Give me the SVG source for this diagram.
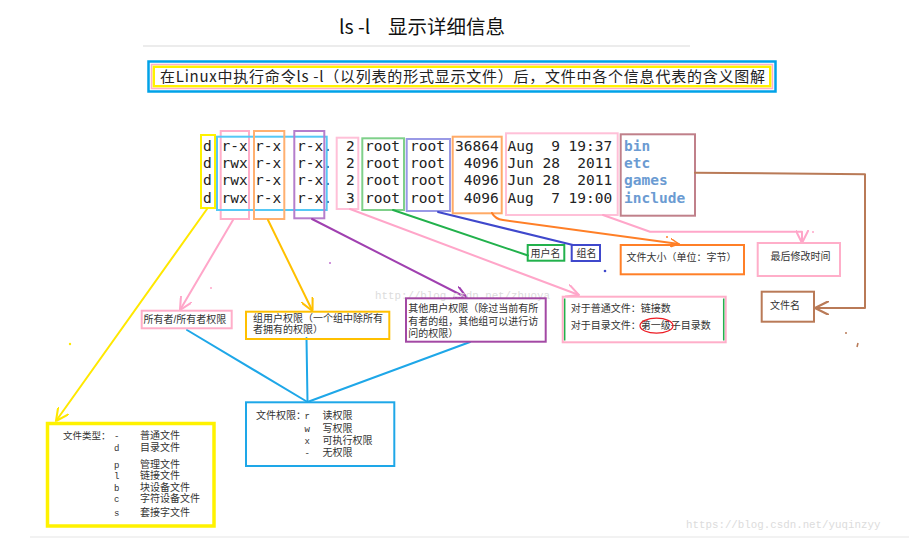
<svg xmlns="http://www.w3.org/2000/svg" width="909" height="540" viewBox="0 0 909 540">
<style>
.cn{font-family:"Liberation Sans","Noto Sans CJK SC",sans-serif;fill:#333;font-size:10px}
.mono{font-family:"DejaVu Sans Mono",monospace;font-size:14.5px;fill:#222}
.nm{font-family:"DejaVu Sans Mono",monospace;font-size:14.5px;fill:#6b9bd2;font-weight:bold}
.wm{font-family:"Liberation Mono",monospace;font-size:10.8px;fill:#dcdcdc}
.sm{font-family:"Liberation Mono",monospace;font-size:9px;fill:#333}
.box{fill:none;stroke-width:2}
.ln{fill:none;stroke-width:2;stroke-linecap:round;stroke-linejoin:round}
</style>
<defs>
<marker id="a-yel" viewBox="0 0 10 10" refX="10" refY="5" markerWidth="13" markerHeight="13" markerUnits="userSpaceOnUse" orient="auto"><path d="M0,0 L10,5 L0,10" fill="none" stroke="#ffe800" stroke-width="1.6"/></marker>
<marker id="a-pink" viewBox="0 0 10 10" refX="10" refY="5" markerWidth="13" markerHeight="13" markerUnits="userSpaceOnUse" orient="auto"><path d="M0,0 L10,5 L0,10" fill="none" stroke="#ffa6c9" stroke-width="1.6"/></marker>
<marker id="a-gold" viewBox="0 0 10 10" refX="10" refY="5" markerWidth="13" markerHeight="13" markerUnits="userSpaceOnUse" orient="auto"><path d="M0,0 L10,5 L0,10" fill="none" stroke="#ffc000" stroke-width="1.6"/></marker>
<marker id="a-pur" viewBox="0 0 10 10" refX="10" refY="5" markerWidth="13" markerHeight="13" markerUnits="userSpaceOnUse" orient="auto"><path d="M0,0 L10,5 L0,10" fill="none" stroke="#a040b0" stroke-width="1.6"/></marker>
<marker id="a-org" viewBox="0 0 10 10" refX="10" refY="5" markerWidth="9" markerHeight="9" markerUnits="userSpaceOnUse" orient="auto"><path d="M0,0 L10,5 L0,10" fill="none" stroke="#ff7f27" stroke-width="1.6"/></marker>
<marker id="a-brn" viewBox="0 0 10 10" refX="10" refY="5" markerWidth="14" markerHeight="14" markerUnits="userSpaceOnUse" orient="auto"><path d="M0,0 L10,5 L0,10" fill="none" stroke="#b97a57" stroke-width="1.6"/></marker>
</defs>
<rect width="909" height="540" fill="#fff"/>
<line x1="143" y1="46" x2="690" y2="46" stroke="#ececec" stroke-width="2"/>
<line x1="30" y1="537" x2="909" y2="537" stroke="#eeeeee" stroke-width="1.5"/>
<text x="339" y="34" font-family="'Noto Sans CJK SC','Noto Sans',sans-serif" font-size="19.5" fill="#111">ls -l<tspan x="388">显示详细信息</tspan></text>

<g id="banner">
<rect x="148.5" y="61.5" width="627" height="30" fill="none" stroke="#00a2e8" stroke-width="2.5"/>
<rect x="151.5" y="64.5" width="621" height="24" fill="none" stroke="#ffaec9" stroke-width="1.5"/>
<rect x="153.8" y="66.8" width="616.4" height="19.4" fill="none" stroke="#fff200" stroke-width="2.4"/>
<text x="160" y="82" font-family="'Noto Sans CJK SC',sans-serif" font-size="15" fill="#222" textLength="605" lengthAdjust="spacing">在Linux中执行命令ls -l（以列表的形式显示文件）后，文件中各个信息代表的含义图解</text>
</g>

<g id="listing">
<text class="mono" x="203" y="151">d</text><text class="mono" x="203" y="168.2">d</text><text class="mono" x="203" y="185.4">d</text><text class="mono" x="203" y="202.6">d</text>
<text class="mono" x="221.5" y="151">r-x</text><text class="mono" x="221.5" y="168.2">rwx</text><text class="mono" x="221.5" y="185.4">rwx</text><text class="mono" x="221.5" y="202.6">rwx</text>
<text class="mono" x="255" y="151">r-x</text><text class="mono" x="255" y="168.2">r-x</text><text class="mono" x="255" y="185.4">r-x</text><text class="mono" x="255" y="202.6">r-x</text>
<text class="mono" x="297" y="151">r-x.</text><text class="mono" x="297" y="168.2">r-x.</text><text class="mono" x="297" y="185.4">r-x.</text><text class="mono" x="297" y="202.6">r-x.</text>
<text class="mono" x="346" y="151">2</text><text class="mono" x="346" y="168.2">2</text><text class="mono" x="346" y="185.4">2</text><text class="mono" x="346" y="202.6">3</text>
<text class="mono" x="365" y="151">root</text><text class="mono" x="365" y="168.2">root</text><text class="mono" x="365" y="185.4">root</text><text class="mono" x="365" y="202.6">root</text>
<text class="mono" x="410" y="151">root</text><text class="mono" x="410" y="168.2">root</text><text class="mono" x="410" y="185.4">root</text><text class="mono" x="410" y="202.6">root</text>
<text class="mono" x="455" y="151" xml:space="preserve">36864</text><text class="mono" x="455" y="168.2" xml:space="preserve"> 4096</text><text class="mono" x="455" y="185.4" xml:space="preserve"> 4096</text><text class="mono" x="455" y="202.6" xml:space="preserve"> 4096</text>
<text class="mono" x="507.5" y="151" xml:space="preserve">Aug  9 19:37</text><text class="mono" x="507.5" y="168.2" xml:space="preserve">Jun 28  2011</text><text class="mono" x="507.5" y="185.4" xml:space="preserve">Jun 28  2011</text><text class="mono" x="507.5" y="202.6" xml:space="preserve">Aug  7 19:00</text>
<text class="nm" x="624" y="151">bin</text><text class="nm" x="624" y="168.2">etc</text><text class="nm" x="624" y="185.4">games</text><text class="nm" x="624" y="202.6">include</text>
<rect class="box" x="201" y="135" width="14" height="73" stroke="#fff200"/>
<rect class="box" x="220.7" y="131" width="28.3" height="88" stroke="#ffaec9"/>
<rect class="box" x="217" y="136.7" width="109.7" height="73.3" stroke="#55c8f5"/>
<rect class="box" x="254" y="131" width="30.3" height="88" stroke="#ffb070"/>
<rect class="box" x="294.3" y="131" width="30" height="87.3" stroke="#b57ecc"/>
<rect class="box" x="336.7" y="137.7" width="21.6" height="71.3" stroke="#ffc0d8"/>
<rect class="box" x="362.3" y="138.3" width="41.7" height="71.7" stroke="#7fd08a"/>
<rect class="box" x="406.7" y="139" width="43.3" height="72" stroke="#9999e6"/>
<rect class="box" x="452.7" y="136.7" width="49" height="76.6" stroke="#ffaa66"/>
<rect class="box" x="506" y="133.3" width="111.7" height="81.7" stroke="#ffc0d8"/>
<rect class="box" x="620.7" y="134.3" width="74.3" height="81.4" stroke="#c0808a"/>
</g>

<g id="connectors">
<path class="ln" d="M207,209 L56,421" stroke="#ffe800" marker-end="url(#a-yel)"/>
<path class="ln" d="M233,220 L180,310" stroke="#ffa6c9" marker-end="url(#a-pink)"/>
<path class="ln" d="M268,220 L312.5,311" stroke="#ffc000" marker-end="url(#a-gold)"/>
<path class="ln" d="M312,219 L467,298" stroke="#a040b0" marker-end="url(#a-pur)"/>
<path class="ln" d="M350,209 L579,295" stroke="#ffa6c9" marker-end="url(#a-pink)"/>
<path class="ln" d="M393,210 L528,255.5" stroke="#22b14c"/>
<path class="ln" d="M438,212 L573,245" stroke="#3f48cc"/>
<path class="ln" d="M492,213 Q495,219 503,220 L679,244" stroke="#ff7f27" marker-end="url(#a-org)"/>
<path class="ln" d="M603,215 L650,231.7 L802,231.7 L802,243" stroke="#ffa6c9" marker-end="url(#a-pink)"/>
<path class="ln" d="M695,172.7 L865,174.3 L865,308 L815,308" stroke="#b97a57" marker-end="url(#a-brn)"/>
<path class="ln" d="M187,330 L307.5,402" stroke="#1ea7e8"/>
<path class="ln" d="M306.5,338 L307.5,402" stroke="#1ea7e8"/>
<path class="ln" d="M470,342 L307.5,402" stroke="#1ea7e8"/>
</g>

<text class="wm" x="375" y="299">http://blog.csdn.net/zhuoya</text>

<g id="owner">
<rect class="box" x="141.7" y="310.7" width="90" height="17.6" stroke="#ffaec9"/>
<text class="cn" x="143.5" y="323">所有者/所有者权限</text>
</g>
<g id="group-perm">
<rect class="box" x="246" y="311.7" width="143.3" height="27.3" stroke="#ffc000"/>
<text class="cn"><tspan x="253" y="321.8">组用户权限（一个组中除所有</tspan><tspan x="253" y="333.3">者拥有的权限）</tspan></text>
</g>
<g id="other-perm">
<rect class="box" x="406" y="298.3" width="139.7" height="43.4" stroke="#a349a4"/>
<text class="cn"><tspan x="408.3" y="312">其他用户权限（除过当前有所</tspan><tspan x="408.3" y="325">有者的组，其他组可以进行访</tspan><tspan x="408.3" y="336.5">问的权限）</tspan></text>
</g>
<g id="links">
<rect class="box" x="562.7" y="296.7" width="163" height="45.6" stroke="#ffaec9"/>
<line x1="564.7" y1="298.5" x2="564.7" y2="340.5" stroke="#22b14c" stroke-width="1.5"/>
<line x1="723.7" y1="298.5" x2="723.7" y2="340.5" stroke="#22b14c" stroke-width="1.5"/>
<text class="cn"><tspan x="570.7" y="311.5">对于普通文件：链接数</tspan><tspan x="570.7" y="329.2">对于目录文件：第一级子目录数</tspan></text>
<ellipse cx="656.5" cy="325.7" rx="16.5" ry="7.5" fill="none" stroke="#ed1c24" stroke-width="1.2"/>
</g>
<g id="user-name">
<rect class="box" x="527.7" y="245" width="36.6" height="15.7" stroke="#22b14c"/>
<text class="cn" x="530.5" y="256.7">用户名</text>
</g>
<g id="group-name">
<rect class="box" x="571.7" y="245" width="28.3" height="16" stroke="#3f48cc"/>
<text class="cn" x="576.5" y="256.7">组名</text>
</g>
<g id="size">
<rect class="box" x="620.7" y="245" width="123.3" height="29.3" stroke="#ff7f27"/>
<text class="cn" x="626.5" y="260.5" font-size="10.6">文件大小（单位：字节）</text>
</g>
<g id="mtime">
<rect class="box" x="757.7" y="243" width="82.3" height="33" stroke="#ffaec9"/>
<text class="cn" x="770.5" y="259.5">最后修改时间</text>
</g>
<g id="filename">
<rect class="box" x="761.7" y="291.7" width="52.3" height="30" stroke="#b97a57"/>
<text class="cn" x="770" y="308.7">文件名</text>
</g>
<g id="perm-legend">
<rect class="box" x="246" y="402.3" width="148.3" height="63.7" stroke="#1ea7e8"/>
<text class="cn" font-size="9.5"><tspan x="256" y="419">文件权限：</tspan><tspan class="sm" x="304.5" y="419">r</tspan><tspan x="322.5" y="419">读权限</tspan><tspan class="sm" x="304.5" y="431.5">w</tspan><tspan x="322.5" y="431.5">写权限</tspan><tspan class="sm" x="304.5" y="443.8">x</tspan><tspan x="322.5" y="443.8">可执行权限</tspan><tspan class="sm" x="304.5" y="455.8">-</tspan><tspan x="322.5" y="455.8">无权限</tspan></text>
</g>
<g id="type-legend">
<rect x="47.5" y="423.5" width="166.5" height="102.5" fill="none" stroke="#fff200" stroke-width="3.5"/>
<text class="cn" font-size="9.7"><tspan x="63" y="438.5" font-size="9.5">文件类型：</tspan><tspan class="sm" x="114" y="438.5">-</tspan><tspan x="140" y="438.5">普通文件</tspan><tspan class="sm" x="114" y="451">d</tspan><tspan x="140" y="451.2">目录文件</tspan><tspan class="sm" x="114" y="468">p</tspan><tspan x="140" y="468">管理文件</tspan><tspan class="sm" x="114" y="479.2">l</tspan><tspan x="140" y="479.2">链接文件</tspan><tspan class="sm" x="114" y="490.6">b</tspan><tspan x="140" y="490.6">块设备文件</tspan><tspan class="sm" x="114" y="502.2">c</tspan><tspan x="140" y="502.2">字符设备文件</tspan><tspan class="sm" x="114" y="515.8">s</tspan><tspan x="140" y="515.8">套接字文件</tspan></text>
</g>

<g id="dots">
<circle cx="211" cy="288" r="1" fill="#ffa6c9"/>
<circle cx="330" cy="263" r="1" fill="#c070d0"/>
<circle cx="70" cy="344" r="1.2" fill="#ffe800"/>
<circle cx="667" cy="237" r="1" fill="#ff7f27"/>
<circle cx="605" cy="271" r="1.3" fill="#3f48cc"/>
<circle cx="813" cy="232" r="1" fill="#ffa6c9"/>
<circle cx="846" cy="333" r="1" fill="#b97a57"/>
<path d="M858,343 L857,347" stroke="#b97a57" stroke-width="1.5"/>
</g>
<text class="wm" x="686" y="527.5" fill="#d0d0d0">https://blog.csdn.net/yuqinzyy</text>
</svg>
